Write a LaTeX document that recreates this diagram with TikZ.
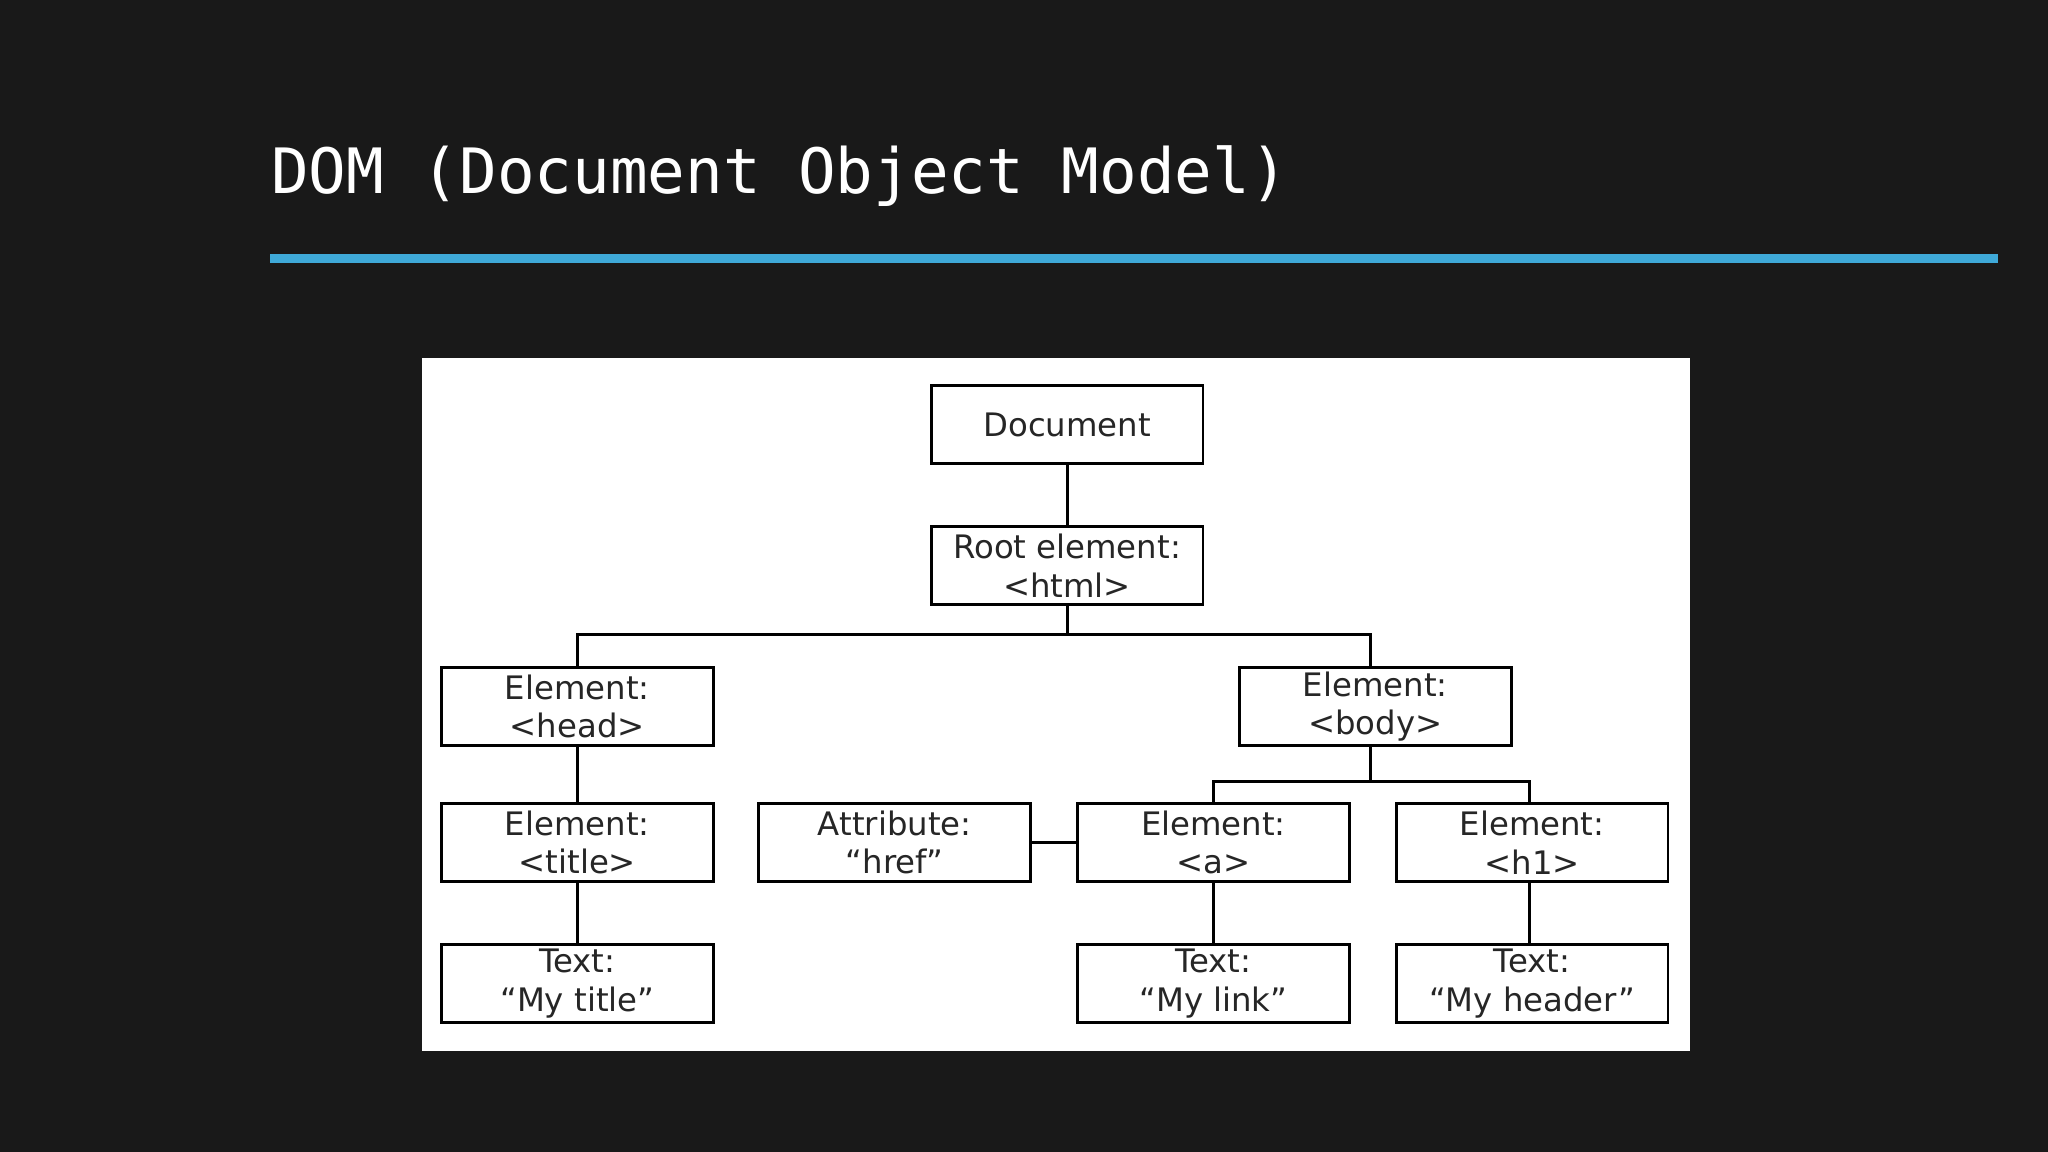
\documentclass[tikz,border=0pt]{standalone}
\usepackage{fontspec}
\setmainfont{DejaVu Sans}
\newfontfamily\titlefont{DejaVu Sans Mono}
\begin{document}
\begin{tikzpicture}[x=0.013061cm,y=-0.013061cm,
  dbox/.style={draw=black,line width=0.8pt,fill=white,minimum width=208*0.013061cm,minimum height=60*0.013061cm,inner sep=0pt,align=center,font=\fontsize{9.2pt}{11pt}\selectfont,text=black!85},
  link/.style={draw=black,line width=0.8pt}]
\useasboundingbox (0,0) rectangle (1568,882);
\fill[black!90] (0,0) rectangle (1568,882);
\node[anchor=base west,text=white,inner sep=0pt,font=\titlefont\fontsize{17.8pt}{20pt}\selectfont] (title) at (207,148) {DOM (Document Object Model)};
\draw[line width=2.5pt,color={rgb,255:red,63;green,169;blue,216}] (207,198) -- (1530,198);
\fill[white] (323,274) rectangle (1294,805);
\node[dbox] (doc) at (817,325) {Document};
\node[dbox] (root) at (817,433) {Root element:\\<html>};
\node[dbox] (head) at (442,541) {Element:\\<head>};
\node[dbox] (body) at (1053,541) {Element:\\<body>};
\node[dbox] (ttl) at (442,645) {Element:\\<title>};
\node[dbox] (attr) at (685,645) {Attribute:\\“href”};
\node[dbox] (a) at (929,645) {Element:\\<a>};
\node[dbox] (h1) at (1173,645) {Element:\\<h1>};
\node[dbox] (t1) at (442,753) {Text:\\“My title”};
\node[dbox] (t2) at (929,753) {Text:\\“My link”};
\node[dbox] (t3) at (1173,753) {Text:\\“My header”};
\draw[link] (doc) -- (root);
\draw[link] (root.south) -- ++(0,22) -| (head.north);
\draw[link] (root.south) -- ++(0,22) -| ([xshift=-4*0.013061cm]body.north);
\draw[link] (head) -- (ttl);
\draw[link] (ttl) -- (t1);
\draw[link] ([xshift=-4*0.013061cm]body.south) -- ++(0,26) -| (a.north);
\draw[link] ([xshift=-4*0.013061cm]body.south) -- ++(0,26) -| ([xshift=-2*0.013061cm]h1.north);
\draw[link] (attr) -- (a);
\draw[link] (a) -- (t2);
\draw[link] ([xshift=-2*0.013061cm]h1.south) -- ([xshift=-2*0.013061cm]t3.north);
\end{tikzpicture}
\end{document}
